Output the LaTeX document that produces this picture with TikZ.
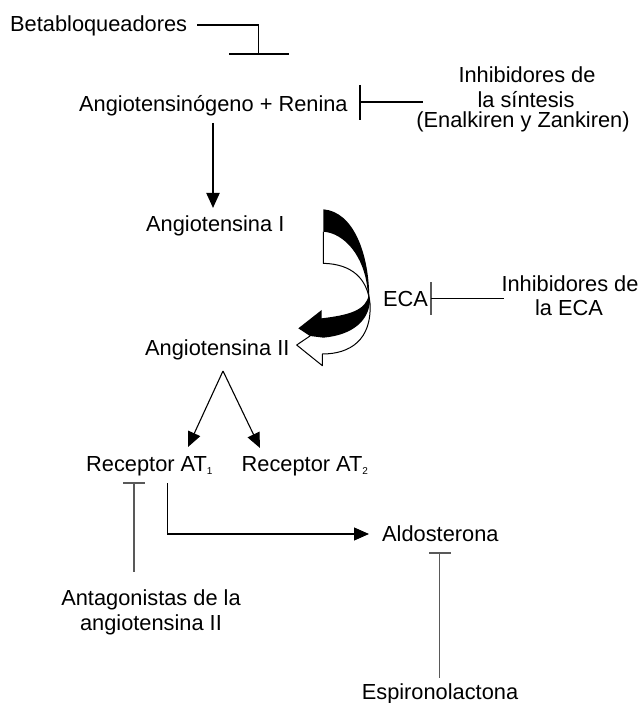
\documentclass[tikz,border=0pt]{standalone}
\usepackage{fontspec}
\setmainfont{Liberation Sans}
\usetikzlibrary{arrows.meta}
\begin{document}
\begin{tikzpicture}[x=1pt,y=-1pt,
  txt/.style={inner sep=0pt,font=\fontsize{21.8}{25}\selectfont},
  ln/.style={line width=1.1pt,black},
  gl/.style={line width=1.4pt,black!65},
  arr/.style={ln,-{Triangle[length=15pt,width=13pt]}}]
\useasboundingbox (0,0) rectangle (641,703);
\newcommand{\subn}[1]{\raisebox{-3pt}{\fontsize{10}{10}\selectfont #1}}

% texts
\node[txt,anchor=base west] (beta) at (10,32) {Betabloqueadores};
\node[txt,anchor=base west] (ang) at (79,111.5) {Angiotensinógeno + Renina};
\node[txt,anchor=base] (ins1) at (527,83) {Inhibidores de};
\node[txt,anchor=base] (ins2) at (526,108) {la síntesis};
\node[txt,anchor=base] (ins3) at (523,128) {(Enalkiren y Zankiren)};
\node[txt,anchor=base west] (a1) at (146,232) {Angiotensina I};
\node[txt,anchor=base west] (a2) at (145,355) {Angiotensina II};
\node[txt,anchor=base west] (eca) at (383,306.5) {ECA};
\node[txt,anchor=base] (ie1) at (570,291.5) {Inhibidores de};
\node[txt,anchor=base] (ie2) at (569,315) {la ECA};
\node[txt,anchor=base west] (r1) at (86,471.5) {Receptor AT\subn{1}};
\node[txt,anchor=base west] (r2) at (241.5,471.5) {Receptor AT\subn{2}};
\node[txt,anchor=base west] (ald) at (382,541) {Aldosterona};
\node[txt,anchor=base] (ant1) at (151,605) {Antagonistas de la};
\node[txt,anchor=base] (ant2) at (151,630) {angiotensina II};
\node[txt,anchor=base] (esp) at (440,699) {Espironolactona};

% Betabloqueadores inhibition
\coordinate (b0) at (197,25);
\coordinate (b1) at (258.5,25);
\coordinate (b2) at (258.5,54);
\draw[ln] (b0) -- (b1) -- (b2);
\draw[ln] (229,54) -- (289,54);

% inhibidores de la sintesis
\coordinate (s0) at (360,85);
\coordinate (s1) at (360,120);
\draw[ln] (s0) -- (s1);
\draw[ln] (360,102) -- (423,102);

% angiotensinogeno -> angiotensina I
\draw[line width=2pt,-{Triangle[length=15pt,width=13pt]}] (213,123) -- (213,208);

% ECA inhibition
\draw[gl] (431,282) -- (431,315);
\draw[ln] (431,298.5) -- (504,298.5);

% curved arrow
\begin{scope}[shift={(290,200)},scale=1/3]
\draw[line width=1pt,line join=round] (100,95) -- (100,190) .. controls (185,192) and (232,235) .. (240,310) .. controls (246,420) and (180,462) .. (97,462) -- (97,497) -- (20,435) -- (60,408);
\fill (100,28) .. controls (190,35) and (238,160) .. (238,300) -- (232,265) .. controls (222,170) and (165,100) .. (100,95) -- cycle;
\fill (236,285) .. controls (228,330) and (180,345) .. (95,355) -- (95,330) -- (25,385) -- (60,408) -- (100,413) .. controls (190,405) and (238,360) .. (240,300) -- cycle;
\end{scope}

% angiotensina II -> receptors
\coordinate (ap) at (223,371);
\draw[arr] (ap) -- (188,447);
\draw[arr] (ap) -- (260,448);

% antagonistas
\draw[gl] (123,483) -- (145,483);
\draw[gl] (134,483) -- (134,572);

% receptor AT1 -> aldosterona
\draw[ln,-{Triangle[length=15pt,width=13pt]}] (167.3,483) -- (167.3,534) -- (369,534);

% espironolactona
\draw[gl] (429,553) -- (451,553);
\draw[gl] (439.5,553) -- (439.5,678);
\end{tikzpicture}
\end{document}
